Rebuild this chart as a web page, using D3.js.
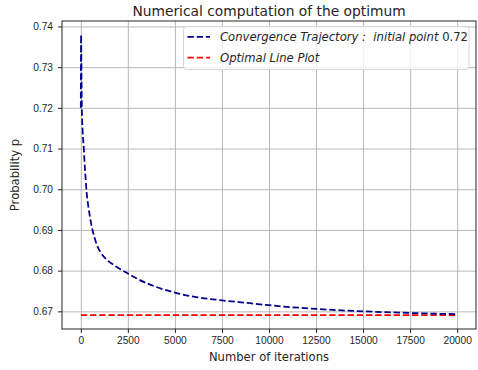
<!DOCTYPE html>
<meta charset="utf-8">
<script src="https://d3js.org/d3.v7.min.js"></script>
<style>
  html, body { margin: 0; background: #fff; }
  svg { font-family: "DejaVu Sans", sans-serif; }
  .grid line { stroke: #b0b0b0; stroke-width: 0.9; }
  .grid path { display: none; }
  .axis text { fill: #262626; font-size: 10.2px; }
  .axis line, .axis path { stroke: #262626; }
</style>
<body>
<script>
// iterations and probability
var iterations = [0, 15, 35, 55, 100, 160, 200, 250, 300, 375, 465, 590, 730, 900, 1050, 1400,
  1850, 2200, 2500, 3000, 4000, 5000, 6000, 7500, 9000, 10000, 12500, 15000, 17500, 20000];
var trajectory = [0.7200, 0.7379, 0.7280, 0.7200, 0.7140, 0.7100, 0.7064, 0.7030, 0.6997, 0.6966,
  0.6938, 0.6906, 0.6881, 0.6858, 0.6845, 0.6826, 0.6811, 0.6801, 0.6793, 0.6780, 0.6760,
  0.6746, 0.6736, 0.6727, 0.6720, 0.6715, 0.6706, 0.6700, 0.6696, 0.6693];
var optimum = 0.6691;
var xTicks = [0, 2500, 5000, 7500, 10000, 12500, 15000, 17500, 20000];
var yTicks = [0.67, 0.68, 0.69, 0.70, 0.71, 0.72, 0.73, 0.74];

var W = 478, H = 370;
var margin = { top: 21, right: 2, bottom: 41, left: 62 },
  width = W - margin.left - margin.right,
  height = H - margin.top - margin.bottom;

var svg = d3.select("body").append("svg")
  .attr("width", W).attr("height", H);
var g = svg.append("g")
  .attr("transform", "translate(" + margin.left + "," + margin.top + ")");

// 5% padding like matplotlib
var xExt = d3.extent(iterations), xPad = (xExt[1] - xExt[0]) * 0.05;
var allY = trajectory.concat([optimum]);
var yExt = d3.extent(allY), yPad = (yExt[1] - yExt[0]) * 0.05;

var x = d3.scaleLinear().domain([xExt[0] - xPad, xExt[1] + xPad]).range([0, width]);
var y = d3.scaleLinear().domain([yExt[0] - yPad, yExt[1] + yPad]).range([height, 0]);

// grid
g.append("g").attr("class", "grid")
  .attr("transform", "translate(0," + height + ")")
  .call(d3.axisBottom(x).tickValues(xTicks).tickSize(-height).tickFormat(""));
g.append("g").attr("class", "grid")
  .call(d3.axisLeft(y).tickValues(yTicks).tickSize(-width).tickFormat(""));

// optimal line
g.append("path")
  .datum(xExt)
  .attr("fill", "none")
  .attr("stroke", "#ff0000")
  .attr("stroke-width", 1.75)
  .attr("stroke-dasharray", "6.4,2.8")
  .attr("d", d3.line().x(function (d) { return x(d); }).y(function () { return y(optimum); }));

// trajectory
g.append("path")
  .datum(iterations)
  .attr("fill", "none")
  .attr("stroke", "#00008b")
  .attr("stroke-width", 1.75)
  .attr("stroke-dasharray", "6.4,2.8")
  .attr("d", d3.line().curve(d3.curveMonotoneX)
    .x(function (d) { return x(d); })
    .y(function (d, i) { return y(trajectory[i]); }));

// axes
var xAxis = g.append("g").attr("class", "axis")
  .attr("transform", "translate(0," + height + ")")
  .call(d3.axisBottom(x).tickValues(xTicks).tickSize(4).tickPadding(4).tickFormat(d3.format("d")));
var yAxis = g.append("g").attr("class", "axis")
  .call(d3.axisLeft(y).tickValues(yTicks).tickSize(4).tickPadding(5).tickFormat(d3.format(".2f")));
xAxis.select(".domain").remove();
yAxis.select(".domain").remove();

// frame
g.append("rect")
  .attr("width", width).attr("height", height)
  .attr("fill", "none").attr("stroke", "#262626").attr("stroke-width", 1);

// title and labels
svg.append("text")
  .attr("x", margin.left + width / 2).attr("y", 16)
  .attr("text-anchor", "middle")
  .style("font-size", "13.8px").attr("fill", "#262626")
  .text("Numerical computation of the optimum");

svg.append("text")
  .attr("x", margin.left + width / 2).attr("y", 361)
  .attr("text-anchor", "middle")
  .style("font-size", "11.6px").attr("fill", "#262626")
  .text("Number of iterations");

svg.append("text")
  .attr("transform", "translate(19," + (margin.top + height / 2) + ") rotate(-90)")
  .attr("text-anchor", "middle")
  .style("font-size", "11.6px").attr("fill", "#262626")
  .text("Probability p");

// legend
var legend = svg.append("g").attr("transform", "translate(183.5,26.5)");
legend.append("rect")
  .attr("width", 285.5).attr("height", 43)
  .attr("rx", 3)
  .attr("fill", "#fff").attr("fill-opacity", 0.8)
  .attr("stroke", "#d6d6d6").attr("stroke-width", 1);

var items = [
  { color: "#00008b", parts: [["Convergence Trajectory :  initial point", "italic"], [" 0.72", "normal"]] },
  { color: "#ff0000", parts: [["Optimal Line Plot", "italic"]] }
];
items.forEach(function (it, i) {
  var yy = 10.3 + i * 20.7;
  legend.append("line")
    .attr("x1", 4).attr("x2", 26.5).attr("y1", yy).attr("y2", yy)
    .attr("stroke", it.color).attr("stroke-width", 1.75)
    .attr("stroke-dasharray", "6.4,2.8");
  var t = legend.append("text")
    .attr("x", 36.5).attr("y", yy + 4.2)
    .style("font-size", "11.6px").attr("fill", "#262626")
    .attr("xml:space", "preserve").style("white-space", "pre");
  it.parts.forEach(function (p) {
    t.append("tspan").style("font-style", p[1]).text(p[0]);
  });
});
</script>
</body>
